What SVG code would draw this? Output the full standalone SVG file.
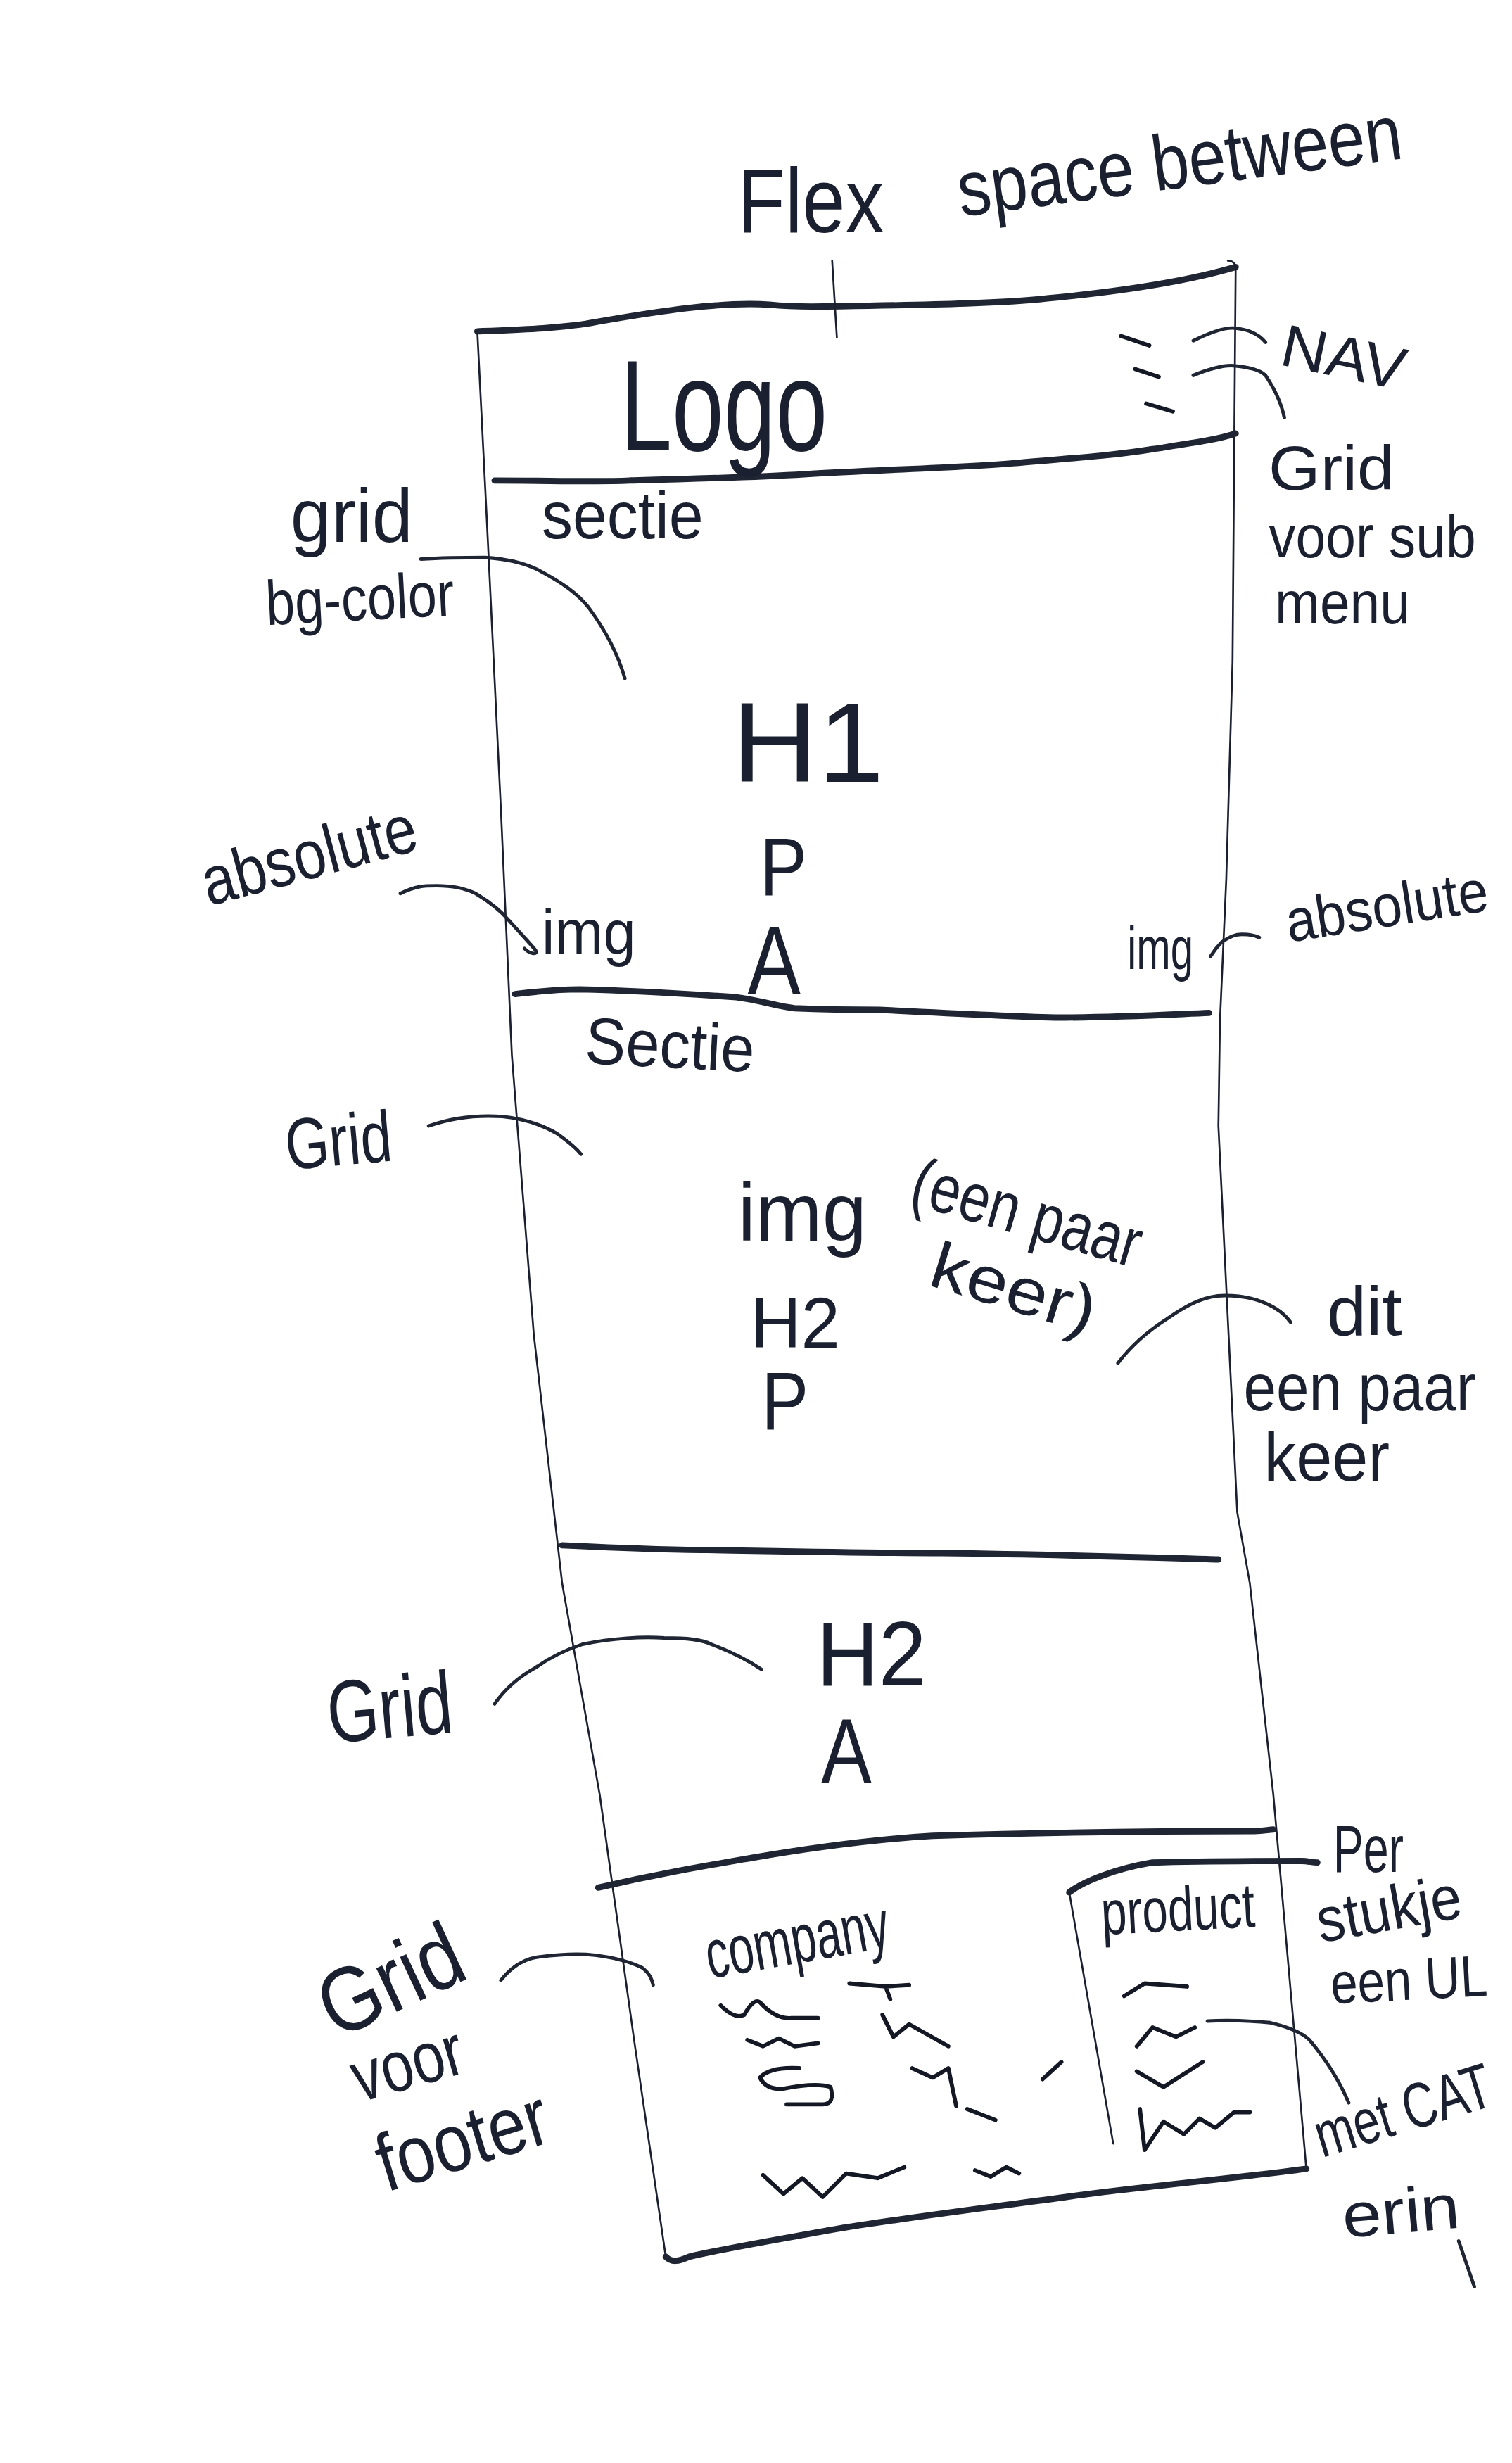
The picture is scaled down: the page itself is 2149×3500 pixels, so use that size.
<svg xmlns="http://www.w3.org/2000/svg" width="2149" height="3500" viewBox="0 0 2149 3500">
<style>
.t{font-family:"Liberation Sans","DejaVu Sans",sans-serif;fill:#1b2030;}
.thin{fill:none;stroke:#1b2030;stroke-width:1.2;stroke-linecap:round;stroke-linejoin:round;}
.thick{fill:none;stroke:#1f2533;stroke-width:4;stroke-linecap:round;stroke-linejoin:round;}
.con{fill:none;stroke:#1f2533;stroke-width:2.2;stroke-linecap:round;stroke-linejoin:round;}
.sq{fill:none;stroke:#141824;stroke-width:2.6;stroke-linecap:round;stroke-linejoin:round;}
</style>
<rect width="2149" height="3500" fill="#ffffff"/>
<g transform="scale(2.2316)">
  <g id="title">
    <text class="t" x="470" y="148" font-size="58" textLength="93" lengthAdjust="spacingAndGlyphs">Flex</text>
    <text class="t" x="612" y="138" font-size="50" textLength="285" lengthAdjust="spacingAndGlyphs" transform="rotate(-7.5 612 138)">space between</text>
  </g>

  <g id="page-frame">
    <path class="thick" d="M304,211 C330,210 360,209 380,205 C420,198 460,192 490,194 C510,196 520,195 535,195 C600,194 640,193 667,190 C720,185 760,178 787,170"/>
    <path class="thin" d="M782,166 C785,166 787,168 787,170"/>
    <path class="thin" d="M304,211 L310,330 L319,515 L326,672 L340,850 L358,1008 L382,1143 L404,1300 L424,1437"/>
    <path class="thin" d="M787,170 L785,421 L781,560 L777,650 L776,717 L788,963 L796,1008 L811,1143 L832,1381"/>
    <path class="thick" d="M832,1381 C780,1388 720,1393 679,1399 C620,1407 570,1413 529,1420 C490,1427 460,1432 439,1437 C432,1440 428,1441 424,1437"/>
  </g>

  <g id="header">
    <path class="thick" d="M315,306 C350,306 380,307 401,306 C440,305 480,304 512,302 C560,299 610,298 645,295 C680,292 710,290 734,286 C760,282 775,280 787,276"/>
    <text class="t" x="395" y="287" font-size="82" textLength="132" lengthAdjust="spacingAndGlyphs">Logo</text>
    <path class="sq" d="M714,214 L732,220"/>
    <path class="sq" d="M723,235 L738,240"/>
    <path class="sq" d="M730,257 L747,262"/>
  </g>

  <g id="section-1">
    <path class="thick" d="M328,633 C345,631 355,630 369,630 C410,631 440,633 469,635 C485,637 495,641 506,642 C530,643 545,643 560,643 C600,645 640,647 672,648 C710,648 745,646 770,645"/>
    <text class="t" x="345" y="343" font-size="42" textLength="103" lengthAdjust="spacingAndGlyphs">sectie</text>
    <text class="t" x="466" y="498" font-size="72" textLength="97" lengthAdjust="spacingAndGlyphs">H1</text>
    <text class="t" x="484" y="570" font-size="52" textLength="30" lengthAdjust="spacingAndGlyphs">P</text>
    <text class="t" x="476" y="633" font-size="62" textLength="34" lengthAdjust="spacingAndGlyphs">A</text>
    <text class="t" x="345" y="607" font-size="40" textLength="60" lengthAdjust="spacingAndGlyphs">img</text>
    <text class="t" x="718" y="617" font-size="38" textLength="42" lengthAdjust="spacingAndGlyphs">img</text>
  </g>

  <g id="section-2">
    <path class="thick" d="M358,984 C400,986 430,987 450,987 C510,988 560,989 600,989 C680,990 740,992 776,993"/>
    <text class="t" x="372" y="677" font-size="42" textLength="108" lengthAdjust="spacingAndGlyphs" transform="rotate(3 372 677)">Sectie</text>
    <text class="t" x="470" y="790" font-size="52" textLength="82" lengthAdjust="spacingAndGlyphs">img</text>
    <text class="t" x="578" y="766" font-size="44" textLength="150" lengthAdjust="spacingAndGlyphs" transform="rotate(16 578 766)">(een paar</text>
    <text class="t" x="590" y="818" font-size="42" textLength="108" lengthAdjust="spacingAndGlyphs" transform="rotate(17 590 818)">keer)</text>
    <text class="t" x="478" y="858" font-size="46" textLength="57" lengthAdjust="spacingAndGlyphs">H2</text>
    <text class="t" x="485" y="910" font-size="52" textLength="30" lengthAdjust="spacingAndGlyphs">P</text>
  </g>

  <g id="section-3">
    <path class="thick" d="M381,1202 C420,1193 450,1188 479,1183 C520,1176 560,1171 594,1169 C660,1167 740,1166 799,1166 C805,1166 808,1165 811,1165"/>
    <text class="t" x="520" y="1073" font-size="58" textLength="70" lengthAdjust="spacingAndGlyphs">H2</text>
    <text class="t" x="523" y="1135" font-size="58" textLength="32" lengthAdjust="spacingAndGlyphs">A</text>
  </g>

  <g id="footer">
    <path class="thick" d="M681,1205 C690,1198 710,1190 734,1186 C770,1185 800,1185 829,1185 C833,1185 836,1186 839,1186"/>
    <path class="thin" d="M681,1205 L709,1365"/>
    <text class="t" x="452" y="1260" font-size="44" textLength="118" lengthAdjust="spacingAndGlyphs" transform="rotate(-10 452 1260)">company</text>
    <text class="t" x="702" y="1232" font-size="40" textLength="98" lengthAdjust="spacingAndGlyphs" transform="rotate(-3 702 1232)">product</text>
    <path class="sq" d="M459,1277 Q468,1286 474,1283 Q480,1272 484,1275 Q494,1286 504,1285 L521,1285"/>
    <path class="sq" d="M476,1299 L486,1303 L496,1298 L506,1303 L521,1301"/>
    <path class="sq" d="M509,1317 Q490,1316 484,1323 Q488,1331 499,1330 Q520,1326 529,1329 Q532,1340 524,1340 L501,1340"/>
    <path class="sq" d="M486,1385 L499,1397 L511,1387 L524,1399 L539,1384 L559,1387 L576,1380"/>
    <path class="sq" d="M541,1263 L564,1265 L579,1264 M564,1265 L567,1273"/>
    <path class="sq" d="M562,1283 L569,1297 L579,1289 L604,1303"/>
    <path class="sq" d="M581,1317 L594,1323 L604,1317 L609,1341 M616,1343 L634,1350"/>
    <path class="sq" d="M621,1382 L631,1386 L641,1380 L649,1384"/>
    <path class="sq" d="M664,1324 L676,1313"/>
    <path class="sq" d="M716,1271 L729,1263 L756,1265"/>
    <path class="sq" d="M724,1303 L734,1291 L749,1297 L761,1291"/>
    <path class="sq" d="M724,1319 L741,1329 L766,1313"/>
    <path class="sq" d="M726,1343 L729,1369 L741,1351 L754,1359 L764,1349 L774,1355 L786,1345 L796,1345"/>
  </g>

  <g id="connectors">
    <path class="thin" d="M530,166 L533,215"/>
    <path class="con" d="M760,217 C770,212 780,208 787,209 C796,210 802,213 806,218"/>
    <path class="con" d="M760,239 C770,235 780,232 787,233 C797,234 803,236 806,239 C812,248 816,256 818,266"/>
    <path class="con" d="M268,356 C285,355 300,355 309,355 C325,356 335,359 343,363 C358,371 368,378 375,387 C386,402 394,418 398,432"/>
    <path class="con" d="M255,569 C265,564 270,564 278,564 C290,564 297,566 303,569 C313,575 319,580 324,586 C332,595 337,600 341,605 C343,608 338,608 334,604"/>
    <path class="con" d="M771,609 C774,604 776,602 778,600 C784,596 787,595 791,595 C797,595 800,596 802,597"/>
    <path class="con" d="M273,717 C290,711 305,710 320,711 C338,713 350,719 355,722 C362,727 367,731 370,735"/>
    <path class="con" d="M712,868 C722,855 732,847 743,840 C757,830 768,825 780,825 C800,825 815,832 822,842"/>
    <path class="con" d="M315,1085 C322,1075 330,1068 341,1062 C352,1054 362,1050 371,1047 C390,1043 410,1042 423,1043 C438,1043 447,1044 453,1047 C466,1052 476,1057 485,1063"/>
    <path class="con" d="M319,1261 C326,1252 335,1247 344,1246 C360,1244 370,1244 379,1245 C395,1247 403,1250 409,1253 C414,1257 415,1260 416,1264"/>
    <path class="con" d="M769,1287 C785,1286 798,1287 809,1288 C822,1291 830,1295 834,1299 C845,1312 853,1325 859,1339"/>
  </g>

  <g id="annotations">
    <text class="t" x="814" y="232" font-size="38" textLength="80" lengthAdjust="spacingAndGlyphs" transform="rotate(12 814 232)">NAV</text>
    <text class="t" x="808" y="312" font-size="40" textLength="80" lengthAdjust="spacingAndGlyphs">Grid</text>
    <text class="t" x="808" y="355" font-size="38" textLength="132" lengthAdjust="spacingAndGlyphs">voor sub</text>
    <text class="t" x="812" y="397" font-size="38" textLength="86" lengthAdjust="spacingAndGlyphs">menu</text>
    <text class="t" x="185" y="345" font-size="48" textLength="78" lengthAdjust="spacingAndGlyphs">grid</text>
    <text class="t" x="170" y="398" font-size="40" textLength="120" lengthAdjust="spacingAndGlyphs" transform="rotate(-3 170 398)">bg-color</text>
    <text class="t" x="133" y="577" font-size="44" textLength="140" lengthAdjust="spacingAndGlyphs" transform="rotate(-15 133 577)">absolute</text>
    <text class="t" x="821" y="600" font-size="38" textLength="130" lengthAdjust="spacingAndGlyphs" transform="rotate(-9 821 600)">absolute</text>
    <text class="t" x="183" y="745" font-size="46" textLength="68" lengthAdjust="spacingAndGlyphs" transform="rotate(-5 183 745)">Grid</text>
    <text class="t" x="845" y="850" font-size="44" textLength="48" lengthAdjust="spacingAndGlyphs">dit</text>
    <text class="t" x="792" y="898" font-size="42" textLength="148" lengthAdjust="spacingAndGlyphs">een paar</text>
    <text class="t" x="805" y="943" font-size="44" textLength="80" lengthAdjust="spacingAndGlyphs">keer</text>
    <text class="t" x="210" y="1110" font-size="56" textLength="80" lengthAdjust="spacingAndGlyphs" transform="rotate(-5 210 1110)">Grid</text>
    <text class="t" x="214" y="1299" font-size="58" textLength="95" lengthAdjust="spacingAndGlyphs" transform="rotate(-25 214 1299)">Grid</text>
    <text class="t" x="229" y="1339" font-size="46" textLength="72" lengthAdjust="spacingAndGlyphs" transform="rotate(-16 229 1339)">voor</text>
    <text class="t" x="246" y="1396" font-size="52" textLength="112" lengthAdjust="spacingAndGlyphs" transform="rotate(-17 246 1396)">footer</text>
    <text class="t" x="849" y="1192" font-size="42" textLength="45" lengthAdjust="spacingAndGlyphs">Per</text>
    <text class="t" x="841" y="1237" font-size="40" textLength="93" lengthAdjust="spacingAndGlyphs" transform="rotate(-10 841 1237)">stukje</text>
    <text class="t" x="0" y="0" font-size="31" transform="translate(848 1276) rotate(-3) scale(1 1.2)">een UL</text>
    <text class="t" x="0" y="0" font-size="30" transform="translate(842 1374) rotate(-17) scale(1 1.35)">met CAT</text>
    <text class="t" x="856" y="1425" font-size="40" textLength="75" lengthAdjust="spacingAndGlyphs" transform="rotate(-5 856 1425)">erin</text>
    <path class="con" d="M929,1427 L939,1456"/>
  </g>
</g>
</svg>
